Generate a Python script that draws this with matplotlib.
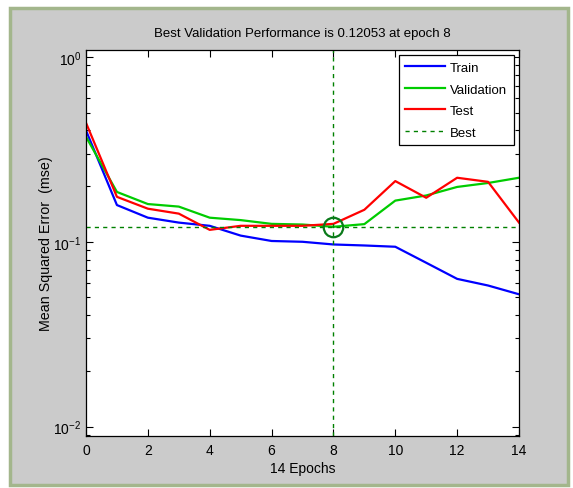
import numpy as np
import matplotlib
matplotlib.use("Agg")
import matplotlib.pyplot as plt
from matplotlib.patches import Rectangle
from matplotlib.ticker import LogLocator, FixedLocator

plt.rcParams['font.family'] = ['Liberation Sans', 'DejaVu Sans']
plt.rcParams['mathtext.fontset'] = 'custom'
plt.rcParams['mathtext.rm'] = 'Liberation Sans'

# values
epochs = np.arange(0, 15)
train = [0.40, 0.158, 0.135, 0.127, 0.122, 0.108, 0.101, 0.100, 0.0967,
         0.0955, 0.094, 0.077, 0.063, 0.058, 0.052]
validation = [0.37, 0.186, 0.160, 0.155, 0.135, 0.131, 0.125, 0.124, 0.12053,
              0.1246, 0.167, 0.178, 0.198, 0.208, 0.222]
test = [0.44, 0.175, 0.151, 0.142, 0.116, 0.122, 0.122, 0.122, 0.125,
        0.149, 0.213, 0.173, 0.222, 0.211, 0.127]
best_epoch = 8
best_perf = 0.12053

fig = plt.figure(figsize=(5.73, 4.89), dpi=100, facecolor='white')

# window background with its frame
fig.patches.append(Rectangle((10 / 573, 1 - 486 / 489), 558 / 573, 477 / 489,
                             transform=fig.transFigure, facecolor='#cbcbcb',
                             edgecolor='#a3b68c', linewidth=2.5, zorder=-5))

ax = fig.add_axes([86 / 573, 1 - 437 / 489, 433 / 573, 386 / 489])
ax.set_zorder(2)
ax.set_facecolor('white')

ax.semilogy(epochs, train, color='#0000ff', lw=1.6, label='Train')
ax.semilogy(epochs, validation, color='#00cc00', lw=1.6, label='Validation')
ax.semilogy(epochs, test, color='#ff0000', lw=1.6, label='Test')
ax.axhline(best_perf, color='#008000', lw=1.0, ls=(0, (3, 3)), label='Best')
ax.axvline(best_epoch, color='#008000', lw=1.0, ls=(0, (3, 3)))
ax.plot([best_epoch], [best_perf], 'o', ms=14, mfc='none', mec='#0a7a1a', mew=1.6)

ax.set_xlim(0, 14)
ax.set_ylim(0.0089, 1.09)
ax.xaxis.set_major_locator(FixedLocator(range(0, 15, 2)))
ax.yaxis.set_major_locator(LogLocator(base=10))
ax.yaxis.set_minor_locator(LogLocator(base=10, subs=np.arange(2, 10)))
ax.tick_params(which='both', direction='in', top=True, right=True,
               labelsize=10, colors='black', width=0.8)
ax.tick_params(which='major', length=5)
ax.tick_params(which='minor', length=3)
ax.tick_params(axis='x', which='minor', top=False, bottom=False)
ax.tick_params(axis='x', pad=5)
for s in ax.spines.values():
    s.set_linewidth(0.9)

ax.set_title('Best Validation Performance is 0.12053 at epoch 8', fontsize=9.5, pad=10)
ax.set_xlabel('14 Epochs', fontsize=10, labelpad=3)
ax.set_ylabel('Mean Squared Error  (mse)', fontsize=10.3, labelpad=0)

leg = ax.legend(loc='upper right', fontsize=9.5, handlelength=3.0, fancybox=False,
                edgecolor='black', framealpha=1, borderaxespad=0.4,
                labelspacing=0.7, borderpad=0.5, handletextpad=0.4)
leg.get_frame().set_linewidth(0.9)

fig.savefig('out.png', dpi=100, facecolor='white')
